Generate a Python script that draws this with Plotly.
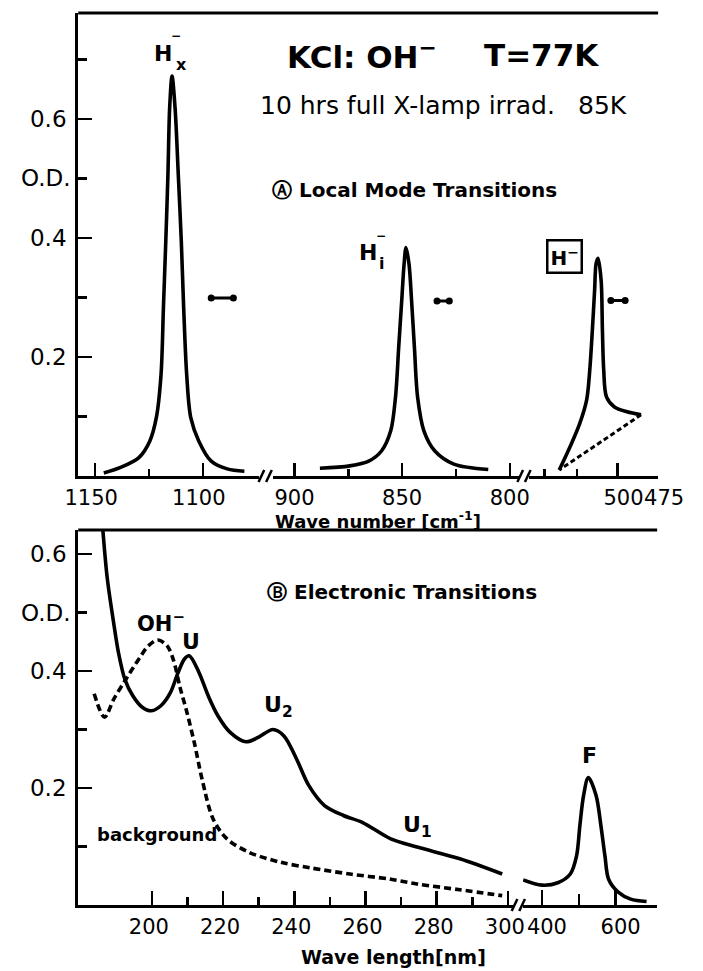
import plotly.graph_objects as go

# ---------------- data ----------------
# Panel A: local mode transitions (wave number cm^-1, O.D.)
hx_wn = [1146.0, 1138.5, 1129.7, 1124.6, 1121.6, 1119.4, 1118.3, 1117.2, 1116.2, 1115.4, 1114.3,
         1112.9, 1111.4, 1110.0, 1108.9, 1107.5, 1105.6, 1101.9, 1096.1, 1088.7, 1080.7]
hx_od = [0.005, 0.014, 0.031, 0.059, 0.098, 0.171, 0.283, 0.395, 0.507, 0.619, 0.672,
         0.619, 0.507, 0.395, 0.283, 0.171, 0.098, 0.059, 0.025, 0.012, 0.008]

hi_wn = [888.2, 874.3, 865.5, 859.6, 855.3, 853.1, 851.6, 850.1, 849.1, 848.2,
         846.8, 845.7, 844.3, 842.8, 839.9, 834.8, 826.0, 810.0]
hi_od = [0.013, 0.017, 0.025, 0.042, 0.076, 0.132, 0.216, 0.300, 0.356, 0.384,
         0.356, 0.300, 0.216, 0.132, 0.076, 0.042, 0.020, 0.011]

hm_wn = [535.9, 529.1, 523.3, 519.0, 517.1, 515.5, 514.1, 513.2, 512.0,
         510.1, 509.3, 508.5, 506.8, 501.9, 494.2, 485.5]
hm_od = [0.010, 0.050, 0.088, 0.128, 0.178, 0.245, 0.313, 0.357, 0.366,
         0.329, 0.245, 0.178, 0.133, 0.116, 0.108, 0.103]
hm_base_wn = [485.5, 535.9]
hm_base_od = [0.103, 0.010]

# resolution bars
res1_wn = [1096.1, 1085.8]; res1_od = [0.299, 0.299]
res2_wn = [833.8, 828.1];   res2_od = [0.294, 0.294]
res3_wn = [504.1, 495.3];   res3_od = [0.295, 0.295]

# Panel B: electronic transitions (wave length nm, O.D.)
main_nm = [186.2, 187.5, 189.1, 190.6, 192.4, 194.6, 197.3, 199.9, 202.6, 205.2, 207.4, 209.2,
           210.5, 213.2, 215.8, 218.5, 222.0, 226.4, 230.0, 234.0, 237.1, 240.6, 244.1, 248.5,
           253.8, 259.2, 267.1, 274.5, 286.5, 298.4]
main_od = [0.643, 0.557, 0.489, 0.432, 0.386, 0.358, 0.338, 0.332, 0.341, 0.363, 0.398, 0.421,
           0.426, 0.398, 0.358, 0.324, 0.295, 0.279, 0.287, 0.300, 0.289, 0.250, 0.204, 0.170,
           0.153, 0.141, 0.113, 0.099, 0.079, 0.053]

bg_nm = [183.8, 186.7, 189.3, 192.4, 196.4, 199.0, 201.7, 204.3, 206.1, 207.9, 209.6, 211.9,
         214.1, 217.2, 221.1, 227.3, 236.2, 245.0, 255.6, 267.1, 274.5, 286.5, 298.4]
bg_od = [0.361, 0.321, 0.352, 0.383, 0.421, 0.443, 0.453, 0.443, 0.418, 0.372, 0.335, 0.278,
         0.215, 0.147, 0.113, 0.090, 0.073, 0.063, 0.053, 0.044, 0.036, 0.026, 0.016]

f_nm = [349, 400, 443, 477, 494, 503, 513, 526, 547, 560, 571, 581, 607, 641, 684]
f_od = [0.043, 0.034, 0.038, 0.053, 0.084, 0.136, 0.187, 0.218, 0.187, 0.136, 0.084, 0.044,
        0.022, 0.010, 0.006]

# tick values / labels
a1_ticks = [1150, 1100]; a1_labels = ["1150", "1100"]; a1_minor = [1125]
a2_ticks = [900, 850, 800]; a2_labels = ["900", "850", "800"]; a2_minor = [875, 825]
a3_ticks = [500, 475]; a3_labels = ["500", "475"]; a3_minor = [545, 525]
b1_ticks = [200, 220, 240, 260, 280, 300]
b1_labels = ["200", "220", "240", "260", "280", "300"]
b1_minor = [210, 230, 250, 270, 290]
b2_ticks = [400, 600]; b2_labels = ["400", "600"]; b2_minor = [500]
y_ticks = [0.2, 0.4, 0.6]; y_labels = ["0.2", "0.4", "0.6"]
y_minor = [0.1, 0.3, 0.5, 0.7]
yb_minor = [0.1, 0.3, 0.5]

# ---------------- layout helpers ----------------
W, H = 703, 971
FONT = "DejaVu Sans"
def px(x): return x / W
def py(y): return 1 - y / H

LW = 3.6
def curve(x, y, xa, ya, dash=None):
    return go.Scatter(x=x, y=y, xaxis=xa, yaxis=ya, mode="lines", hoverinfo="skip",
                      line=dict(color="black", width=LW, shape="spline", smoothing=0.9,
                                dash=dash))

def resbar(x, y, xa, ya):
    return go.Scatter(x=x, y=y, xaxis=xa, yaxis=ya, mode="lines+markers", hoverinfo="skip",
                      line=dict(color="black", width=3),
                      marker=dict(color="black", size=7, symbol="circle"))

fig = go.Figure()
fig.add_trace(curve(hx_wn, hx_od, "x", "y"))
fig.add_trace(curve(hi_wn, hi_od, "x2", "y"))
fig.add_trace(curve(hm_wn, hm_od, "x3", "y"))
fig.add_trace(go.Scatter(x=hm_base_wn, y=hm_base_od, xaxis="x3", yaxis="y", mode="lines",
                         hoverinfo="skip",
                         line=dict(color="black", width=3, dash="5px,3px")))
fig.add_trace(resbar(res1_wn, res1_od, "x", "y"))
fig.add_trace(resbar(res2_wn, res2_od, "x2", "y"))
fig.add_trace(resbar(res3_wn, res3_od, "x3", "y"))

fig.add_trace(curve(main_nm, main_od, "x4", "y3"))
fig.add_trace(curve(bg_nm, bg_od, "x4", "y3", dash="7px,4px"))
fig.add_trace(curve(f_nm, f_od, "x5", "y3"))

def xaxis(domain, rng, ticks, labels, minor, ticklen=13, minorlen=7, standoff=1, shift=0):
    return dict(domain=domain, range=rng, showline=True, linecolor="black", linewidth=3,
                ticks="inside", tickmode="array", tickvals=ticks,
                ticktext=labels, ticklen=ticklen, tickwidth=2.5,
                tickcolor="black", showgrid=False, zeroline=False, fixedrange=True,
                ticklabelstandoff=standoff, ticklabelshift=shift, tickangle=0,
                tickfont=dict(family=FONT, size=21, color="black"),
                minor=dict(tickmode="array", tickvals=minor, ticks="inside", ticklen=minorlen,
                           tickwidth=2.5, tickcolor="black", showgrid=False))

def yaxis(domain, rng, anchor, side="left", overlay=None, minor=y_minor):
    d = dict(range=rng, anchor=anchor, side=side, showline=True, linecolor="black",
             linewidth=3, ticks="inside", tickmode="array", tickvals=y_ticks,
             ticktext=y_labels, ticklen=14, tickwidth=2.5,
             tickcolor="black", showgrid=False, zeroline=False, fixedrange=True,
             ticklabelstandoff=4,
             tickfont=dict(family=FONT, size=23, color="black"),
             minor=dict(tickmode="array", tickvals=minor, ticks="inside", ticklen=9,
                        tickwidth=2.5, tickcolor="black", showgrid=False))
    if overlay:
        d["overlaying"] = overlay
        d["showticklabels"] = False
        d["ticklen"] = 10
    else:
        d["domain"] = domain
    return d

topdom = [py(476), py(13)]
botdom = [py(905), py(530)]
top_rng = [0, 463 / 595]
bot_rng = [0, 375 / 585]

fig.update_layout(
    width=W, height=H, autosize=False,
    margin=dict(l=0, r=0, t=0, b=0),
    paper_bgcolor="white", plot_bgcolor="white",
    showlegend=False,
    font=dict(family=FONT, color="black"),
    xaxis=xaxis([px(69), px(260)], [1157.9, 1074.1], a1_ticks, a1_labels, a1_minor, shift=4),
    xaxis2=xaxis([px(275), px(536)], [910.1, 795.6], a2_ticks, a2_labels, a2_minor),
    xaxis3=xaxis([px(546), px(683)], [554.7, 475], a3_ticks, a3_labels, a3_minor, shift=-6),
    xaxis4=xaxis([px(69), px(530)], [179.3, 301.6], b1_ticks, b1_labels, b1_minor,
                 ticklen=14, minorlen=8, shift=-3),
    xaxis5=xaxis([px(540), px(682)], [348.7, 712.8], b2_ticks, b2_labels, b2_minor,
                 ticklen=15, minorlen=11, shift=5),
    yaxis=yaxis(topdom, top_rng, "x"),
    yaxis2=yaxis(topdom, top_rng, "x3", side="right", overlay="y"),
    yaxis3=yaxis(botdom, bot_rng, "x4", minor=yb_minor),
    yaxis4=yaxis(botdom, bot_rng, "x5", side="right", overlay="y3", minor=yb_minor),
)
for ax in ["xaxis", "xaxis2", "xaxis3"]:
    fig.layout[ax].anchor = "y"
for ax in ["xaxis4", "xaxis5"]:
    fig.layout[ax].anchor = "y3"

# frame tops and axis breaks
shapes = [
    dict(type="line", xref="paper", yref="paper", x0=px(69), x1=px(683), y0=py(13), y1=py(13),
         line=dict(color="black", width=3)),
    dict(type="line", xref="paper", yref="paper", x0=px(69), x1=px(682), y0=py(530), y1=py(530),
         line=dict(color="black", width=3)),
]
for bx, by in [(267, 476), (541, 476), (535, 905)]:
    for dx in (-4, 4):
        shapes.append(dict(type="line", xref="paper", yref="paper",
                           x0=px(bx + dx - 3), y0=py(by + 6), x1=px(bx + dx + 3), y1=py(by - 6),
                           line=dict(color="black", width=2.5)))
fig.update_layout(shapes=shapes)

def ann(text, x, y, size, xanchor="center", yref="paper", yv=None, **kw):
    return dict(text=text, x=px(x), y=(py(y) if yv is None else yv), xref="paper", yref=yref,
                showarrow=False, xanchor=xanchor, yanchor="middle",
                font=dict(family=FONT, size=size, color="black"), **kw)

annotations = [
    ann("<b>KCl: OH<sup>−</sup></b>", 369, 55, 31),
    ann("<b>T=77K</b>", 560, 55, 31),
    ann("10 hrs full X-lamp irrad.", 418, 105, 25),
    ann("85K", 624, 105, 25),
    ann("<b>Ⓐ Local Mode Transitions</b>", 425, 190, 20),
    ann("<b>Ⓑ Electronic Transitions</b>", 412, 592, 20),
    # H_x^-
    ann("<b>H</b>", 159, 54, 22),
    ann("<b>−</b>", 173, 36, 12),
    ann("<b>x</b>", 178, 64, 16),
    # H_i^-
    ann("<b>H</b>", 376, 253, 22),
    ann("<b>−</b>", 390, 236, 12),
    ann("<b>i</b>", 390, 264, 16),
    # boxed H^-
    ann("<b>H<sup>−</sup></b>", 584, 256, 20, bordercolor="black", borderwidth=2.5, borderpad=2),
    # panel B labels
    ann("<b>OH<sup>−</sup></b>", 157, 622, 21),
    ann("<b>U</b>", 188, 641, 22),
    ann("<b>U<sub>2</sub></b>", 281, 706, 22),
    ann("<b>U<sub>1</sub></b>", 428, 826, 22),
    ann("<b>background</b>", 152, 834, 18),
    ann("<b>F</b>", 610, 755, 22),
    # axis titles
    ann("<b>Wave number [cm<sup>-1</sup>]</b>", 386, 520, 18),
    ann("<b>Wave length[nm]</b>", 403, 957, 19),
    # O.D. labels
    ann("O.D.", 64, 0, 23, xanchor="right", yref="y", yv=0.5),
    ann("O.D.", 64, 0, 23, xanchor="right", yref="y3", yv=0.5),
]
fig.update_layout(annotations=annotations)

fig.write_html("out.html", config=dict(displayModeBar=False, staticPlot=True),
               post_script="document.body.style.margin='0';document.body.style.overflow='hidden';")
